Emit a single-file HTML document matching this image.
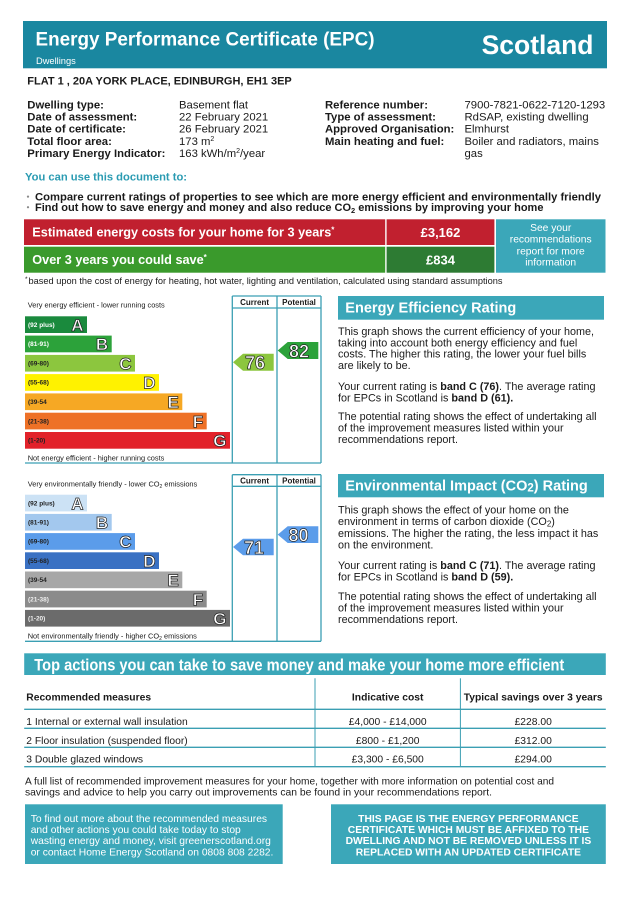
<!DOCTYPE html>
<html>
<head>
<meta charset="utf-8">
<style>
html,body{margin:0;padding:0;background:#fff;}
svg{display:block;}
</style>
</head>
<body>
<svg xmlns="http://www.w3.org/2000/svg" width="630" height="900" viewBox="0 0 630 900" font-family="'Liberation Sans', Arial, sans-serif" fill="#1a1a1a">
<rect width="630" height="900" fill="#fff"/>

<!-- Header -->
<rect x="23" y="21" width="584" height="47.3" fill="#1a87a0"/>
<text x="35.5" y="45.5" font-size="19" font-weight="bold" fill="#fff" textLength="339" lengthAdjust="spacingAndGlyphs">Energy Performance Certificate (EPC)</text>
<text x="36" y="64" font-size="9.3" fill="#fff">Dwellings</text>
<text x="593.5" y="54" font-size="26.5" font-weight="bold" fill="#fff" text-anchor="end">Scotland</text>

<text x="27.3" y="84.5" font-size="11" font-weight="bold">FLAT 1 , 20A YORK PLACE, EDINBURGH, EH1 3EP</text>

<!-- Details -->
<g font-size="11.3">
<g font-weight="bold">
<text x="27.3" y="108.3">Dwelling type:</text>
<text x="27.3" y="120.5">Date of assessment:</text>
<text x="27.3" y="132.7">Date of certificate:</text>
<text x="27.3" y="144.9">Total floor area:</text>
<text x="27.3" y="157.1">Primary Energy Indicator:</text>
<text x="325" y="108.3">Reference number:</text>
<text x="325" y="120.5">Type of assessment:</text>
<text x="325" y="132.7">Approved Organisation:</text>
<text x="325" y="144.9">Main heating and fuel:</text>
</g>
<text x="179" y="108.3">Basement flat</text>
<text x="179" y="120.5">22 February 2021</text>
<text x="179" y="132.7">26 February 2021</text>
<text x="179" y="144.9">173 m<tspan font-size="7" dy="-4">2</tspan></text>
<text x="179" y="157.1">163 kWh/m<tspan font-size="7" dy="-4">2</tspan><tspan dy="4">/year</tspan></text>
<text x="464.5" y="108.3">7900-7821-0622-7120-1293</text>
<text x="464.5" y="120.5">RdSAP, existing dwelling</text>
<text x="464.5" y="132.7">Elmhurst</text>
<text x="464.5" y="144.9">Boiler and radiators, mains</text>
<text x="464.5" y="157.1">gas</text>
</g>

<text x="25" y="180.5" font-size="11.2" font-weight="bold" fill="#2a9bb2">You can use this document to:</text>
<circle cx="28" cy="196.6" r="1.1" fill="#888"/>
<circle cx="28" cy="207.2" r="1.1" fill="#888"/>
<text x="35" y="200.3" font-size="11" font-weight="bold" textLength="566" lengthAdjust="spacingAndGlyphs">Compare current ratings of properties to see which are more energy efficient and environmentally friendly</text>
<text x="35" y="211" font-size="11" font-weight="bold">Find out how to save energy and money and also reduce CO<tspan font-size="7.5" dy="2">2</tspan><tspan dy="-2"> emissions by improving your home</tspan></text>

<!-- Cost box -->
<rect x="24" y="219.3" width="361.2" height="25.7" fill="#c1202f"/>
<rect x="386.6" y="219.3" width="107.8" height="25.7" fill="#c1202f"/>
<rect x="24" y="246.7" width="361.2" height="26" fill="#3a9a2c"/>
<rect x="386.6" y="246.7" width="107.8" height="26" fill="#2d7b33"/>
<rect x="496" y="219.3" width="109.5" height="53.4" fill="#3ba7b9"/>
<text x="32.3" y="236.6" font-size="12.7" font-weight="bold" fill="#fff">Estimated energy costs for your home for 3 years<tspan font-size="8" dy="-4">*</tspan></text>
<text x="32.3" y="264.2" font-size="12.7" font-weight="bold" fill="#fff">Over 3 years you could save<tspan font-size="8" dy="-4">*</tspan></text>
<text x="440.5" y="236.8" font-size="13" font-weight="bold" fill="#fff" text-anchor="middle">£3,162</text>
<text x="440.5" y="264.4" font-size="13" font-weight="bold" fill="#fff" text-anchor="middle">£834</text>
<g font-size="10.3" fill="#fff" text-anchor="middle">
<text x="550.7" y="230.9">See your</text>
<text x="550.7" y="242.6">recommendations</text>
<text x="550.7" y="254.3">report for more</text>
<text x="550.7" y="265.3">information</text>
</g>
<text x="25" y="281" font-size="6.5">*</text>
<text x="28.5" y="284" font-size="9.3" textLength="474" lengthAdjust="spacingAndGlyphs">based upon the cost of energy for heating, hot water, lighting and ventilation, calculated using standard assumptions</text>

<!-- Energy Efficiency chart -->
<g stroke="#3b9fb3" stroke-width="1.3" fill="none">
<line x1="232.3" y1="296" x2="232.3" y2="463"/>
<line x1="277" y1="296" x2="277" y2="463"/>
<line x1="321" y1="296" x2="321" y2="463"/>
<line x1="232.3" y1="296" x2="321" y2="296"/>
<line x1="232.3" y1="308" x2="321" y2="308"/>
<line x1="25" y1="463" x2="321" y2="463"/>
</g>
<text x="254.6" y="305" font-size="8" font-weight="bold" text-anchor="middle">Current</text>
<text x="299" y="305" font-size="8" font-weight="bold" text-anchor="middle">Potential</text>
<text x="27.7" y="307.6" font-size="7.4">Very energy efficient - lower running costs</text>
<text x="27.7" y="460.6" font-size="7.4">Not energy efficient - higher running costs</text>

<g>
<rect x="25" y="316.3" width="62" height="16.7" fill="#1a8a3d"/>
<rect x="25" y="335.6" width="86.7" height="16.7" fill="#2ca23a"/>
<rect x="25" y="354.9" width="110" height="16.7" fill="#8cc63e"/>
<rect x="25" y="374.1" width="134" height="16.7" fill="#fff200"/>
<rect x="25" y="393.4" width="157.3" height="16.7" fill="#f6a824"/>
<rect x="25" y="412.7" width="181.7" height="16.7" fill="#ee7127"/>
<rect x="25" y="432" width="205" height="16.7" fill="#e2222a"/>
</g>
<g font-size="6.5" font-weight="bold">
<text x="28" y="326.9" fill="#fff">(92 plus)</text>
<text x="28" y="346.2" fill="#fff">(81-91)</text>
<text x="28" y="365.5" fill="#222">(69-80)</text>
<text x="28" y="384.7" fill="#222">(55-68)</text>
<text x="28" y="404" fill="#222">(39-54</text>
<text x="28" y="423.3" fill="#222">(21-38)</text>
<text x="28" y="442.6" fill="#222">(1-20)</text>
</g>
<g font-size="17" font-weight="bold" fill="#fff" stroke="#222" stroke-width="0.7" text-anchor="end">
<text x="83.5" y="330.9">A</text>
<text x="108.2" y="350.2">B</text>
<text x="131.5" y="369.5">C</text>
<text x="155.5" y="388.7">D</text>
<text x="178.8" y="408">E</text>
<text x="203.2" y="427.3">F</text>
<text x="226.5" y="446.6">G</text>
</g>
<polygon points="233,362.2 243,353.7 273.7,353.7 273.7,370.7 243,370.7" fill="#8cc63e"/>
<polygon points="277.7,350.5 287.7,342 318.3,342 318.3,359 287.7,359" fill="#2ca23a"/>
<g font-size="18" font-weight="bold" fill="#fff" stroke="#222" stroke-width="0.7" text-anchor="middle">
<text x="255" y="369">76</text>
<text x="299" y="357.3">82</text>
</g>

<!-- EE panel -->
<rect x="338" y="296" width="266" height="23.7" fill="#3ba7b9"/>
<text x="345.3" y="312.7" font-size="14.5" font-weight="bold" fill="#fff" textLength="171" lengthAdjust="spacingAndGlyphs">Energy Efficiency Rating</text>
<g font-size="10.8">
<text x="338" y="335">This graph shows the current efficiency of your home,</text>
<text x="338" y="346.3">taking into account both energy efficiency and fuel</text>
<text x="338" y="357.6">costs. The higher this rating, the lower your fuel bills</text>
<text x="338" y="368.9">are likely to be.</text>
<text x="338" y="390">Your current rating is <tspan font-weight="bold">band C (76)</tspan>. The average rating</text>
<text x="338" y="401.4">for EPCs in Scotland is <tspan font-weight="bold">band D (61).</tspan></text>
<text x="338" y="420">The potential rating shows the effect of undertaking all</text>
<text x="338" y="431.6">of the improvement measures listed within your</text>
<text x="338" y="443.2">recommendations report.</text>
</g>

<!-- Environmental chart -->
<g stroke="#3b9fb3" stroke-width="1.3" fill="none">
<line x1="232.3" y1="474.7" x2="232.3" y2="641.3"/>
<line x1="277" y1="474.7" x2="277" y2="641.3"/>
<line x1="321" y1="474.7" x2="321" y2="641.3"/>
<line x1="232.3" y1="474.7" x2="321" y2="474.7"/>
<line x1="232.3" y1="486.3" x2="321" y2="486.3"/>
<line x1="25" y1="641.3" x2="321" y2="641.3"/>
</g>
<text x="254.6" y="483.3" font-size="8" font-weight="bold" text-anchor="middle">Current</text>
<text x="299" y="483.3" font-size="8" font-weight="bold" text-anchor="middle">Potential</text>
<text x="27.7" y="486.3" font-size="7.4">Very environmentally friendly - lower CO<tspan font-size="5" dy="1.5">2</tspan><tspan dy="-1.5"> emissions</tspan></text>
<text x="27.7" y="638.6" font-size="7.4">Not environmentally friendly - higher CO<tspan font-size="5" dy="1.5">2</tspan><tspan dy="-1.5"> emissions</tspan></text>

<g>
<rect x="25" y="494.7" width="62" height="16.7" fill="#cce2f5"/>
<rect x="25" y="513.9" width="86.7" height="16.7" fill="#a3c8ee"/>
<rect x="25" y="533.1" width="110" height="16.7" fill="#5b9cea"/>
<rect x="25" y="552.3" width="134" height="16.7" fill="#3a71c3"/>
<rect x="25" y="571.5" width="157.3" height="16.7" fill="#a7a7a7"/>
<rect x="25" y="590.7" width="181.7" height="16.7" fill="#8b8b8b"/>
<rect x="25" y="609.9" width="205" height="16.7" fill="#6b6b6b"/>
</g>
<g font-size="6.5" font-weight="bold">
<text x="28" y="505.3" fill="#222">(92 plus)</text>
<text x="28" y="524.5" fill="#222">(81-91)</text>
<text x="28" y="543.7" fill="#222">(69-80)</text>
<text x="28" y="562.9" fill="#222">(55-68)</text>
<text x="28" y="582.1" fill="#222">(39-54</text>
<text x="28" y="601.3" fill="#eee">(21-38)</text>
<text x="28" y="620.5" fill="#eee">(1-20)</text>
</g>
<g font-size="17" font-weight="bold" fill="#fff" stroke="#222" stroke-width="0.7" text-anchor="end">
<text x="83.5" y="509.3">A</text>
<text x="108.2" y="528.5">B</text>
<text x="131.5" y="547.7">C</text>
<text x="155.5" y="566.9">D</text>
<text x="178.8" y="586.1">E</text>
<text x="203.2" y="605.3">F</text>
<text x="226.5" y="624.5">G</text>
</g>
<polygon points="233,547 243,538.7 273.7,538.7 273.7,555.3 243,555.3" fill="#5b9cea"/>
<polygon points="277.7,534.6 287.7,526.3 318.3,526.3 318.3,543 287.7,543" fill="#5b9cea"/>
<g font-size="18" font-weight="bold" fill="#fff" stroke="#222" stroke-width="0.7" text-anchor="middle">
<text x="254" y="553.8">71</text>
<text x="298.5" y="541.3">80</text>
</g>

<!-- Env panel -->
<rect x="338" y="474" width="266" height="23.3" fill="#3ba7b9"/>
<text x="345.3" y="490.6" font-size="14.5" font-weight="bold" fill="#fff">Environmental Impact (CO<tspan font-size="11.5" dy="1">2</tspan><tspan dy="-1">) Rating</tspan></text>
<g font-size="10.8">
<text x="338" y="513.4">This graph shows the effect of your home on the</text>
<text x="338" y="525">environment in terms of carbon dioxide (CO<tspan font-size="8" dy="1.5">2</tspan><tspan dy="-1.5">)</tspan></text>
<text x="338" y="536.8">emissions. The higher the rating, the less impact it has</text>
<text x="338" y="548.6">on the environment.</text>
<text x="338" y="569">Your current rating is <tspan font-weight="bold">band C (71)</tspan>. The average rating</text>
<text x="338" y="580.5">for EPCs in Scotland is <tspan font-weight="bold">band D (59).</tspan></text>
<text x="338" y="600">The potential rating shows the effect of undertaking all</text>
<text x="338" y="611.6">of the improvement measures listed within your</text>
<text x="338" y="623.2">recommendations report.</text>
</g>

<!-- Top actions -->
<rect x="24.2" y="653.3" width="581.6" height="21.7" fill="#3ba7b9"/>
<text x="34.3" y="670.3" font-size="17" font-weight="bold" fill="#fff" textLength="530" lengthAdjust="spacingAndGlyphs">Top actions you can take to save money and make your home more efficient</text>
<g stroke="#3b9fb3" fill="none">
<line x1="315" y1="678.3" x2="315" y2="766.7" stroke-width="1"/>
<line x1="460.4" y1="678.3" x2="460.4" y2="766.7" stroke-width="1"/>
<line x1="24.2" y1="709.3" x2="605.8" y2="709.3" stroke-width="1.4"/>
<line x1="24.2" y1="728.3" x2="605.8" y2="728.3" stroke-width="1.3"/>
<line x1="24.2" y1="747.3" x2="605.8" y2="747.3" stroke-width="1.3"/>
<line x1="24.2" y1="766.7" x2="605.8" y2="766.7" stroke-width="1.4"/>
</g>
<g font-size="10.3" font-weight="bold">
<text x="26.3" y="700.3">Recommended measures</text>
<text x="387.7" y="700.3" text-anchor="middle">Indicative cost</text>
<text x="533.2" y="700.3" text-anchor="middle">Typical savings over 3 years</text>
</g>
<g font-size="10.3">
<text x="26.3" y="724.8">1 Internal or external wall insulation</text>
<text x="387.7" y="724.8" text-anchor="middle">£4,000 - £14,000</text>
<text x="533.2" y="724.8" text-anchor="middle">£228.00</text>
<text x="26.3" y="743.9">2 Floor insulation (suspended floor)</text>
<text x="387.7" y="743.9" text-anchor="middle">£800 - £1,200</text>
<text x="533.2" y="743.9" text-anchor="middle">£312.00</text>
<text x="26.3" y="762.7">3 Double glazed windows</text>
<text x="387.7" y="762.7" text-anchor="middle">£3,300 - £6,500</text>
<text x="533.2" y="762.7" text-anchor="middle">£294.00</text>
</g>

<text x="25" y="784.7" font-size="10.2" textLength="529" lengthAdjust="spacingAndGlyphs">A full list of recommended improvement measures for your home, together with more information on potential cost and</text>
<text x="25" y="795.4" font-size="10.2" textLength="467" lengthAdjust="spacingAndGlyphs">savings and advice to help you carry out improvements can be found in your recommendations report.</text>

<!-- Bottom boxes -->
<rect x="25" y="804.3" width="257.7" height="59.7" fill="#3ba7b9"/>
<rect x="331" y="804.3" width="274.8" height="59.7" fill="#3ba7b9"/>
<g font-size="10.3" fill="#fff">
<text x="30.7" y="822">To find out more about the recommended measures</text>
<text x="30.7" y="833">and other actions you could take today to stop</text>
<text x="30.7" y="844">wasting energy and money, visit greenerscotland.org</text>
<text x="30.7" y="855.4">or contact Home Energy Scotland on 0808 808 2282.</text>
</g>
<g font-size="10.3" font-weight="bold" fill="#fff" text-anchor="middle">
<text x="468.4" y="822">THIS PAGE IS THE ENERGY PERFORMANCE</text>
<text x="468.4" y="833">CERTIFICATE WHICH MUST BE AFFIXED TO THE</text>
<text x="468.4" y="844">DWELLING AND NOT BE REMOVED UNLESS IT IS</text>
<text x="468.4" y="855.4">REPLACED WITH AN UPDATED CERTIFICATE</text>
</g>
</svg>
</body>
</html>
